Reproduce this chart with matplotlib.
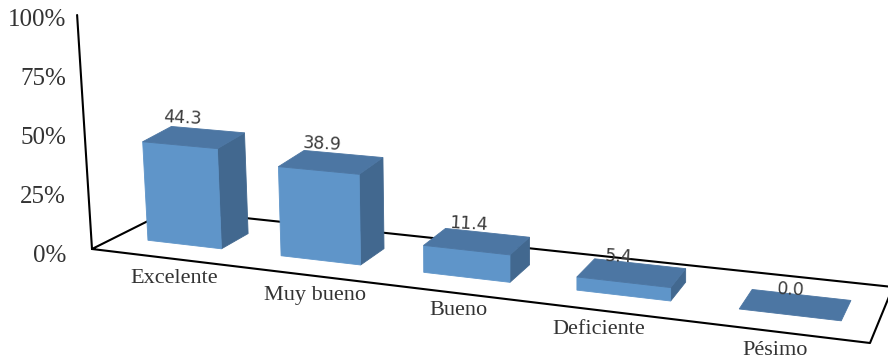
import numpy as np
from matplotlib import pyplot as plt

categories = ['Excelente', 'Muy bueno', 'Bueno', 'Deficiente', 'Pésimo']
values = [44.3, 38.9, 11.4, 5.4, 0.0]
y_ticks = [0, 25, 50, 75, 100]

# floor corners in pixels: front left, front right, back right, back left
floor = [(92, 249), (870, 343), (893, 287), (170, 210)]
bar_width = 0.57
bar_shift = [0.035, 0.05, 0.055, 0.05, 0.02]
v_front, v_back = 0.30, 0.67

# hand placed text offsets, the reference labels are not regular
value_nudge = [(-25, -12), (-21, -10), (-19, -9), (-21, -7), (-10, -5)]
label_nudge = [(18, 22), (23, 22), (18, 19), (-2, 19), (-1, 19)]


def make_homography(corners):
    src = [(0, 0), (1, 0), (1, 1), (0, 1)]
    a, b = [], []
    for (u, v), (x, y) in zip(src, corners):
        a.append([u, v, 1, 0, 0, 0, -u * x, -v * x])
        a.append([0, 0, 0, u, v, 1, -u * y, -v * y])
        b += [x, y]
    h = np.linalg.solve(np.array(a, float), np.array(b, float))
    return np.append(h, 1).reshape(3, 3)


H = make_homography(floor)


def project(cat, depth, height=0, scale=None):
    # cat runs 0..5 along the category axis, depth 0..1 front to back
    p = H @ np.array([cat / len(categories), depth, 1])
    x, y = p[0] / p[2], p[1] / p[2]
    if scale is None:
        scale = 2.15 + 0.0005 * x  # nearer bars come out a bit taller
    up = height * scale
    # verticals lean left and the lean fades to the right
    lean = 0.08 * max(1 - x / 450, 0)
    return x - up * lean, y - up


def face(ax, pts, color):
    ax.fill([p[0] for p in pts], [p[1] for p in pts], color=color, lw=0.6, zorder=3)


fig = plt.figure(figsize=(8.88, 3.59), dpi=100)
ax = fig.add_axes([0, 0, 1, 1])
ax.set_xlim(0, 888)
ax.set_ylim(359, 0)
ax.axis('off')

# floor outline and wall axis
line_style = dict(color='black', lw=1.5, zorder=2, solid_capstyle='round')
outline = [project(0, 0), project(5, 0), project(5, 1), project(0, 1), project(0, 0)]
ax.plot([p[0] for p in outline], [p[1] for p in outline], **line_style)
top = project(0, 0, 100, scale=2.34)
ax.plot([project(0, 0)[0], top[0]], [project(0, 0)[1], top[1]], **line_style)

for tick in y_ticks:
    ax.text(66, 256.5 - tick * 2.37, f'{tick}%', ha='right', va='center',
            fontsize=18, family='Liberation Serif', color='#333333')

for i, (name, val) in enumerate(zip(categories, values)):
    mid = i + 0.5 + bar_shift[i]
    left = mid - bar_width / 2
    right = mid + bar_width / 2
    fl0, fr0 = project(left, v_front), project(right, v_front)
    br0 = project(right, v_back)
    fl1, fr1 = project(left, v_front, val), project(right, v_front, val)
    bl1, br1 = project(left, v_back, val), project(right, v_back, val)
    if val > 0:
        face(ax, [fr0, br0, br1, fr1], '#42688F')
        face(ax, [fl0, fr0, fr1, fl1], '#5F95C9')
    face(ax, [fl1, fr1, br1, bl1], '#4C76A3')

    cx, cy = project(mid, v_back, val)
    ax.text(cx + value_nudge[i][0], cy + value_nudge[i][1], f'{val:.1f}', ha='center', va='center',
            fontsize=12.5, rotation=-3, color='#3a3a3a', zorder=5)

    lx, ly = project(i + 0.5, 0)
    ax.text(lx + label_nudge[i][0], ly + label_nudge[i][1], name, ha='center', va='center',
            fontsize=16, family='Liberation Serif', color='#333333', zorder=5)

fig.savefig('out.png', dpi=100)
